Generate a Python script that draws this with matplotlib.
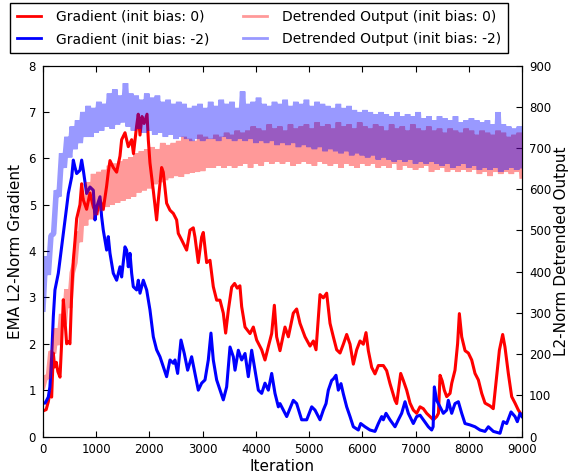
import matplotlib
matplotlib.use("Agg")
import matplotlib.pyplot as plt

# EMA L2-norm of the gradient, output bias initialised at 0
grad0_iter = [0, 60, 100, 130, 163, 194, 220, 250, 280, 320, 350, 382, 413, 445, 480, 507,
              540, 570, 600, 633, 695, 727, 758, 820, 883, 946, 1009, 1071, 1133, 1196, 1227,
              1259, 1321, 1384, 1447, 1478, 1541, 1603, 1666, 1700, 1760, 1790, 1823, 1860,
              1900, 1955, 1979, 2010, 2073, 2135, 2167, 2229, 2260, 2323, 2386, 2449, 2511,
              2542, 2605, 2699, 2762, 2824, 2856, 2918, 2981, 3012, 3075, 3138, 3200, 3263,
              3326, 3388, 3432, 3482, 3545, 3600, 3650, 3700, 3733, 3796, 3890, 3952, 4015,
              4109, 4171, 4234, 4297, 4347, 4390, 4453, 4547, 4610, 4703, 4766, 4829, 4923,
              5017, 5080, 5130, 5205, 5267, 5330, 5393, 5455, 5518, 5581, 5643, 5706, 5769,
              5831, 5894, 5957, 6019, 6069, 6113, 6176, 6238, 6301, 6395, 6457, 6520, 6614,
              6645, 6721, 6770, 6833, 6896, 6958, 7021, 7084, 7146, 7209, 7272, 7334, 7397,
              7430, 7460, 7500, 7540, 7585, 7648, 7680, 7741, 7790, 7823, 7867, 7930, 7992,
              8055, 8117, 8180, 8243, 8305, 8399, 8460, 8524, 8575, 8637, 8680, 8743, 8806,
              8869, 8931, 9000]
grad0_val = [0.55, 0.58, 0.75, 0.95, 0.85, 1.8, 1.5, 1.6, 1.4, 1.28, 2.0, 2.95, 2.5, 2.0, 2.05, 2.0,
             3.1, 3.8, 4.2, 4.7, 5.0, 5.45, 5.1, 4.9, 5.25, 4.95, 4.8, 5.1, 4.9, 5.4, 5.7,
             5.95, 5.8, 5.7, 6.05, 6.4, 6.55, 6.25, 6.4, 6.1, 6.7, 6.95, 6.5, 6.9,
             6.75, 6.95, 6.4, 5.9, 5.3, 4.67, 5.1, 5.8, 5.7, 5.03, 4.88, 4.81, 4.67,
             4.38, 4.24, 4.02, 4.45, 4.5, 4.3, 3.75, 4.3, 4.4, 3.75, 3.8, 3.23, 2.94,
             2.94, 2.66, 2.23, 2.72, 3.22, 3.3, 3.2, 3.25, 2.8, 2.36, 2.22, 2.36, 2.08,
             1.87, 1.65, 1.94, 2.22, 2.83, 2.15, 1.85, 2.36, 2.15, 2.66, 2.75, 2.44, 2.15,
             1.95, 2.06, 1.87, 3.06, 2.99, 3.09, 2.44, 2.15, 1.87, 1.8, 1.99, 2.2, 1.99,
             1.56, 1.87, 2.06, 1.99, 2.24, 1.85, 1.49, 1.35, 1.53, 1.53, 1.42, 1.14, 0.78,
             0.71, 1.36, 1.21, 1.0, 0.72, 0.57, 0.5, 0.64, 0.6, 0.5, 0.43, 0.36, 0.43,
             0.5, 1.32, 1.2, 1.0, 0.86, 0.93, 1.15, 1.43, 2.0, 2.65, 2.15, 1.85, 1.8,
             1.65, 1.36, 1.22, 0.93, 0.72, 0.66, 0.6, 1.29, 1.86, 2.2, 1.93, 1.36, 0.86,
             0.72, 0.57, 0.45]

# EMA L2-norm of the gradient, output bias initialised at -2
grad2_iter = [0, 40, 100, 130, 163, 194, 225, 288, 351, 382, 445, 476, 540, 570, 600, 633,
              695, 727, 758, 820, 883, 946, 977, 1009, 1071, 1102, 1133, 1196, 1227, 1259,
              1321, 1384, 1447, 1478, 1541, 1572, 1603, 1635, 1666, 1697, 1760, 1791, 1823,
              1885, 1948, 2010, 2073, 2135, 2198, 2261, 2323, 2386, 2449, 2480, 2530, 2593,
              2655, 2718, 2793, 2856, 2918, 2981, 3044, 3106, 3156, 3200, 3263, 3326, 3388,
              3451, 3514, 3576, 3608, 3670, 3733, 3796, 3858, 3921, 3984, 4046, 4109, 4171,
              4234, 4297, 4359, 4422, 4453, 4579, 4703, 4766, 4860, 4955, 5049, 5111, 5205,
              5267, 5318, 5361, 5424, 5455, 5505, 5549, 5599, 5643, 5706, 5769, 5831, 5925,
              5969, 6050, 6144, 6238, 6301, 6364, 6395, 6445, 6520, 6614, 6677, 6739, 6802,
              6864, 6958, 7021, 7084, 7146, 7240, 7303, 7330, 7353, 7397, 7459, 7522, 7585,
              7615, 7679, 7741, 7804, 7867, 7929, 8023, 8117, 8211, 8305, 8368, 8462, 8587,
              8649, 8712, 8794, 8869, 8912, 8963, 9000]
grad2_val = [0.72, 0.72, 0.85, 1.07, 1.72, 2.58, 3.16, 3.52, 4.09, 4.38, 4.95, 5.24, 5.6, 5.96, 5.81, 5.67,
             5.74, 5.96, 5.74, 5.24, 5.38, 5.31, 4.67, 4.95, 5.17, 4.74, 4.45, 4.02, 4.31, 3.95,
             3.52, 3.37, 3.66, 3.44, 4.09, 4.02, 3.66, 3.95, 3.52, 3.23, 3.16, 3.37, 3.09,
             3.37, 3.16, 2.73, 2.15, 1.87, 1.72, 1.5, 1.29, 1.65, 1.58, 1.65, 1.36, 2.08,
             1.79, 1.43, 1.72, 1.36, 1.0, 1.15, 1.22, 1.65, 2.23, 1.65, 1.22, 1.0, 0.79,
             1.07, 1.93, 1.72, 1.43, 1.86, 1.65, 1.79, 1.29, 1.86, 1.43, 1.0, 0.93, 1.15,
             1.0, 1.36, 0.93, 0.64, 0.71, 0.43, 0.78, 0.71, 0.36, 0.36, 0.64, 0.57, 0.36,
             0.57, 0.71, 1.0, 1.21, 1.24, 1.32, 1.0, 1.14, 0.92, 0.64, 0.43, 0.21, 0.14,
             0.28, 0.21, 0.14, 0.11, 0.28, 0.43, 0.36, 0.5, 0.36, 0.21, 0.36, 0.5, 0.75,
             0.5, 0.28, 0.43, 0.46, 0.36, 0.21, 0.14, 0.21, 1.07, 0.78, 0.64, 0.5, 0.57,
             0.78, 0.5, 0.71, 0.75, 0.5, 0.28, 0.25, 0.21, 0.14, 0.11, 0.21, 0.11, 0.07,
             0.32, 0.28, 0.53, 0.43, 0.32, 0.5, 0.43]

# detrended output norm: troughs of the noisy trace every 100 iterations,
# peaks half way between them
trough_iter = list(range(0, 9001, 100))
peak_iter = list(range(50, 9000, 100))
out0_low = [122, 142, 202, 222, 272, 312, 422, 472, 512, 527,
            537, 547, 557, 562, 567, 572, 577, 582, 592, 597,
            602, 612, 617, 622, 627, 632, 630, 637, 640, 642,
            644, 652, 652, 657, 652, 657, 652, 657, 662, 652,
            662, 657, 667, 662, 667, 662, 667, 657, 662, 667,
            662, 657, 667, 662, 657, 662, 652, 662, 657, 652,
            662, 657, 662, 652, 657, 652, 662, 647, 657, 652,
            647, 652, 657, 642, 647, 652, 642, 647, 642, 647,
            642, 647, 637, 642, 632, 642, 637, 642, 637, 642, 632]
out0_high = [146, 206, 262, 297, 357, 397, 497, 577, 617, 637,
             642, 647, 657, 662, 667, 672, 677, 687, 692, 697,
             702, 697, 712, 707, 712, 717, 727, 722, 717, 732,
             727, 722, 732, 727, 737, 732, 742, 737, 742, 752,
             747, 742, 757, 747, 752, 742, 757, 747, 752, 757,
             747, 762, 752, 757, 747, 762, 752, 757, 747, 762,
             752, 747, 757, 752, 742, 757, 747, 752, 742, 757,
             747, 742, 752, 742, 747, 737, 747, 742, 737, 747,
             742, 732, 742, 737, 732, 742, 737, 727, 732, 737]
out2_low = [309, 392, 492, 582, 652, 677, 697, 712, 727, 727,
            737, 742, 752, 747, 757, 762, 752, 742, 747, 737,
            742, 732, 737, 727, 732, 722, 727, 722, 717, 722,
            717, 722, 722, 717, 727, 722, 717, 722, 717, 722,
            712, 717, 712, 717, 707, 712, 707, 712, 702, 707,
            702, 697, 702, 692, 697, 692, 687, 692, 682, 687,
            682, 677, 682, 672, 677, 672, 667, 672, 667, 672,
            662, 667, 662, 667, 662, 657, 662, 652, 657, 662,
            652, 657, 647, 652, 647, 652, 642, 647, 652, 647, 657]
out2_high = [437, 487, 597, 687, 727, 752, 767, 787, 802, 797,
             812, 807, 832, 842, 827, 857, 832, 827, 817, 832,
             822, 827, 812, 817, 807, 812, 807, 797, 802, 807,
             797, 812, 802, 817, 807, 812, 797, 837, 807, 812,
             822, 807, 802, 812, 807, 817, 802, 812, 807, 817,
             802, 812, 807, 802, 797, 807, 797, 802, 792, 787,
             792, 787, 782, 787, 782, 777, 787, 777, 782, 777,
             787, 772, 777, 767, 777, 772, 767, 777, 762, 767,
             772, 767, 762, 767, 757, 787, 757, 752, 747, 752]


def noisy_trace(lows, highs):
    # alternate troughs and peaks so the trace zig-zags like the raw signal
    xs, ys = [], []
    for i, low in enumerate(lows):
        xs.append(trough_iter[i])
        ys.append(low)
        if i < len(peak_iter):
            xs.append(peak_iter[i])
            ys.append(highs[i])
    return xs, ys


fig = plt.figure(figsize=(5.7, 4.74), dpi=100)
ax = fig.add_axes([0.0754, 0.0791, 0.8404, 0.7827])
ax2 = ax.twinx()

l1, = ax.plot(grad0_iter, grad0_val, color="red", lw=2.2, label="Gradient (init bias: 0)")
l2, = ax.plot(grad2_iter, grad2_val, color="blue", lw=2.2, label="Gradient (init bias: -2)")

x0, y0 = noisy_trace(out0_low, out0_high)
x2, y2 = noisy_trace(out2_low, out2_high)
l3, = ax2.plot(x0, y0, color="red", alpha=0.4, lw=4, solid_joinstyle="bevel",
               label="Detrended Output (init bias: 0)")
l4, = ax2.plot(x2, y2, color="blue", alpha=0.4, lw=4, solid_joinstyle="bevel",
               label="Detrended Output (init bias: -2)")

ax.set_xlim(0, 9000)
ax.set_ylim(0, 8)
ax2.set_ylim(0, 900)
ax.set_xticks(range(0, 9001, 1000))
ax2.set_yticks(range(0, 901, 100))

ax.tick_params(direction="in", length=4, top=True, labelsize=8.5, pad=5)
ax2.tick_params(direction="in", length=4, labelsize=8.5, pad=5)

ax.set_xlabel("Iteration", fontsize=11, labelpad=2)
ax.set_ylabel("EMA L2-Norm Gradient", fontsize=11)
ax2.set_ylabel("L2-Norm Detrended Output", fontsize=11, labelpad=2)

handles = [l1, l2, l3, l4]
leg = fig.legend(handles, [h.get_label() for h in handles],
                 loc="upper left", bbox_to_anchor=(10 / 570, 1 - 3 / 474), ncol=2,
                 fontsize=10, fancybox=False, edgecolor="black", framealpha=1,
                 borderaxespad=0, borderpad=0.5, labelspacing=0.6,
                 handlelength=1.7, handletextpad=1.1, columnspacing=2.45)
leg.get_frame().set_linewidth(1)
for h in leg.legend_handles:
    h.set_linewidth(2)

fig.savefig("out.png", dpi=100)
